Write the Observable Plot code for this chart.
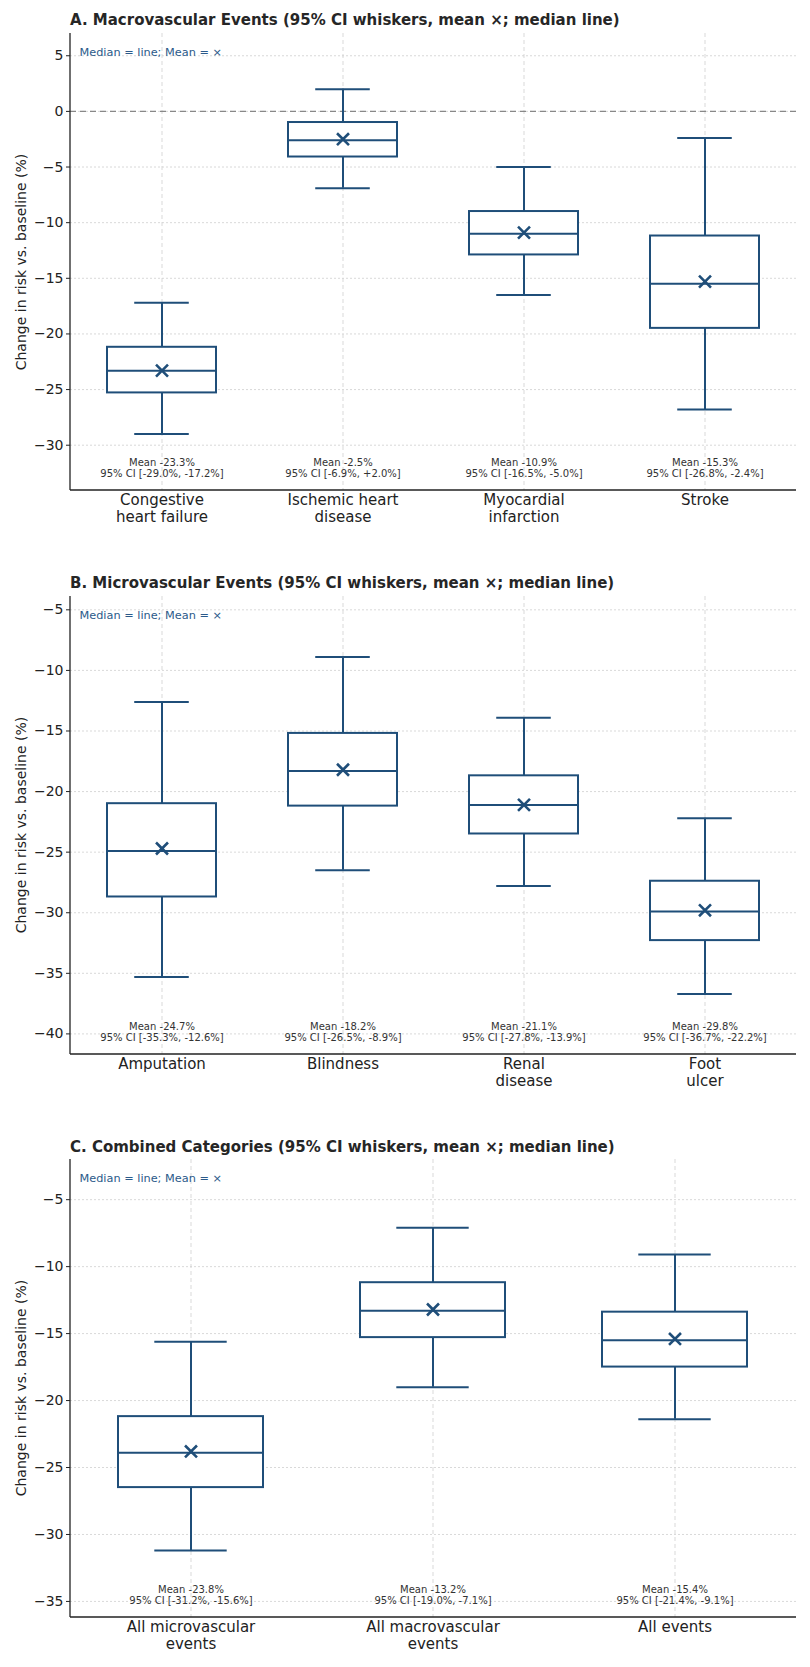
<!DOCTYPE html>
<html><head><meta charset="utf-8">
<script src="https://cdn.jsdelivr.net/npm/d3@7"></script>
<script src="https://cdn.jsdelivr.net/npm/@observablehq/plot@0.6"></script>
<style>
body{margin:0;background:#fff;width:810px;height:1667px;position:relative;font-family:"DejaVu Sans",sans-serif;overflow:hidden;}
.panel{position:absolute;left:0;width:810px;}
.title{position:absolute;left:70px;font-weight:bold;font-size:15px;color:#262626;white-space:nowrap;line-height:16px;}
.ylab{position:absolute;left:21px;font-size:14px;color:#222;white-space:nowrap;line-height:16px;transform:translate(-50%,-50%) rotate(-90deg);}
</style></head><body>
<script>
// ---------- Panel A: Macrovascular ----------
const titleA = "A. Macrovascular Events (95% CI whiskers, mean ×; median line)";
const catsA = ["Congestive\nheart failure", "Ischemic heart\ndisease", "Myocardial\ninfarction", "Stroke"];
const meanA = [-23.3, -2.5, -10.9, -15.3];
const medianA = [-23.3, -2.6, -11.0, -15.5];
const q1A = [-25.3, -4.1, -12.9, -19.5];
const q3A = [-21.2, -1.0, -9.0, -11.2];
const ciLoA = [-29.0, -6.9, -16.5, -26.8];
const ciHiA = [-17.2, 2.0, -5.0, -2.4];
const ticksA = [-30, -25, -20, -15, -10, -5, 0, 5];
const domainA = [-34.07, 7.0];

// ---------- Panel B: Microvascular ----------
const titleB = "B. Microvascular Events (95% CI whiskers, mean ×; median line)";
const catsB = ["Amputation", "Blindness", "Renal\ndisease", "Foot\nulcer"];
const meanB = [-24.7, -18.2, -21.1, -29.8];
const medianB = [-24.9, -18.3, -21.1, -29.9];
const q1B = [-28.7, -21.2, -23.5, -32.3];
const q3B = [-21.0, -15.2, -18.7, -27.4];
const ciLoB = [-35.3, -26.5, -27.8, -36.7];
const ciHiB = [-12.6, -8.9, -13.9, -22.2];
const ticksB = [-40, -35, -30, -25, -20, -15, -10, -5];
const domainB = [-41.7, -3.9];

// ---------- Panel C: Combined ----------
const titleC = "C. Combined Categories (95% CI whiskers, mean ×; median line)";
const catsC = ["All microvascular\nevents", "All macrovascular\nevents", "All events"];
const meanC = [-23.8, -13.2, -15.4];
const medianC = [-23.9, -13.3, -15.5];
const q1C = [-26.5, -15.3, -17.5];
const q3C = [-21.2, -11.2, -13.4];
const ciLoC = [-31.2, -19.0, -21.4];
const ciHiC = [-15.6, -7.1, -9.1];
const ticksC = [-35, -30, -25, -20, -15, -10, -5];
const domainC = [-36.2, -2.0];

const legendText = "Median = line; Mean = ×";
const yLabel = "Change in risk vs. baseline (%)";

const BLUE = "#1f4e79";
const W = 810, ML = 70, MR = 14;

function fmtSigned(v) { return (v > 0 ? "+" : "") + v.toFixed(1) + "%"; }
function minusFmt(d) { return d < 0 ? "\u2212" + Math.abs(d) : String(d); }

function spines(index, scales, values, dims) {
  const g = d3.create("svg:g");
  const l = dims.marginLeft, r = dims.width - dims.marginRight;
  const t = dims.marginTop, b = dims.height - dims.marginBottom;
  g.append("line").attr("x1", l).attr("x2", l).attr("y1", t).attr("y2", b)
    .attr("stroke", "#222").attr("stroke-width", 1.3);
  g.append("line").attr("x1", l).attr("x2", r).attr("y1", b).attr("y2", b)
    .attr("stroke", "#222").attr("stroke-width", 1.3);
  return g.node();
}

function makePanel(spec) {
  const {title, cats, mean, median, q1, q3, ciLo, ciHi, ticks, domain, top, height, marginTop, marginBottom, titleY, zero} = spec;
  const rows = cats.map((c, i) => ({cat: c, mean: mean[i], median: median[i], q1: q1[i], q3: q3[i], lo: ciLo[i], hi: ciHi[i],
    note: `Mean ${fmtSigned(mean[i])}\n95% CI [${fmtSigned(ciLo[i])}, ${fmtSigned(ciHi[i])}]`}));
  const step = (W - ML - MR) / cats.length;
  const capInset = 0.15 * step;

  const marks = [
    Plot.ruleX(cats, {stroke: "#cfcfcf", strokeWidth: 0.8, strokeDasharray: "4,3"}),
    Plot.ruleY(ticks, {stroke: "#cfcfcf", strokeWidth: 0.8, strokeDasharray: "2,2"}),
  ];
  if (zero) marks.push(Plot.ruleY([0], {stroke: "#888", strokeWidth: 1.3, strokeDasharray: "6,4"}));
  marks.push(
    Plot.text(rows, {x: "cat", frameAnchor: "bottom", text: "note", fontSize: 10, lineHeight: 1.1, lineAnchor: "middle", dy: -22.5, fill: "#333"}),
    Plot.ruleX(rows, {x: "cat", y1: "hi", y2: "q3", stroke: BLUE, strokeWidth: 2}),
    Plot.ruleX(rows, {x: "cat", y1: "q1", y2: "lo", stroke: BLUE, strokeWidth: 2}),
    Plot.tickY(rows, {x: "cat", y: "hi", stroke: BLUE, strokeWidth: 2, insetLeft: capInset, insetRight: capInset}),
    Plot.tickY(rows, {x: "cat", y: "lo", stroke: BLUE, strokeWidth: 2, insetLeft: capInset, insetRight: capInset}),
    Plot.barY(rows, {x: "cat", y1: "q1", y2: "q3", fill: "white", stroke: BLUE, strokeWidth: 2}),
    Plot.tickY(rows, {x: "cat", y: "median", stroke: BLUE, strokeWidth: 2}),
    Plot.dot(rows, {x: "cat", y: "mean", symbol: "times", r: 5.5, stroke: BLUE, strokeWidth: 2.6}),
    Plot.text([legendText], {frameAnchor: "top-left", dx: 9, dy: 19, textAnchor: "start", lineAnchor: "middle", fontSize: 11.3, fill: "#2b5a8a"}),
    Plot.axisY({ticks, tickFormat: minusFmt, tickSize: 4, tickPadding: 3, fontSize: 14, label: null}),
    Plot.axisX({tickSize: 0, tickPadding: 3, fontSize: 15, lineHeight: 1.1, label: null}),
    spines
  );

  const chart = Plot.plot({
    width: W, height,
    marginLeft: ML, marginRight: MR, marginTop, marginBottom,
    style: {fontFamily: "DejaVu Sans", fontSize: "14px", color: "#222", background: "white"},
    x: {type: "band", domain: cats, paddingInner: 0.4, paddingOuter: 0.2},
    y: {domain},
    marks
  });

  const div = document.createElement("div");
  div.className = "panel";
  div.style.top = top + "px";
  div.appendChild(chart);
  document.body.appendChild(div);

  const t = document.createElement("div");
  t.className = "title";
  t.style.top = (titleY - 8) + "px";
  t.textContent = title;
  document.body.appendChild(t);

  const yl = document.createElement("div");
  yl.className = "ylab";
  yl.style.top = (top + marginTop + (height - marginTop - marginBottom) / 2) + "px";
  yl.textContent = yLabel;
  document.body.appendChild(yl);
}

makePanel({title: titleA, cats: catsA, mean: meanA, median: medianA, q1: q1A, q3: q3A, ciLo: ciLoA, ciHi: ciHiA,
  ticks: ticksA, domain: domainA, top: 0, height: 545, marginTop: 33, marginBottom: 55, titleY: 20, zero: true});
makePanel({title: titleB, cats: catsB, mean: meanB, median: medianB, q1: q1B, q3: q3B, ciLo: ciLoB, ciHi: ciHiB,
  ticks: ticksB, domain: domainB, top: 550, height: 560, marginTop: 46, marginBottom: 56, titleY: 583, zero: false});
makePanel({title: titleC, cats: catsC, mean: meanC, median: medianC, q1: q1C, q3: q3C, ciLo: ciLoC, ciHi: ciHiC,
  ticks: ticksC, domain: domainC, top: 1110, height: 557, marginTop: 49, marginBottom: 50, titleY: 1147, zero: false});
</script>
</body></html>
